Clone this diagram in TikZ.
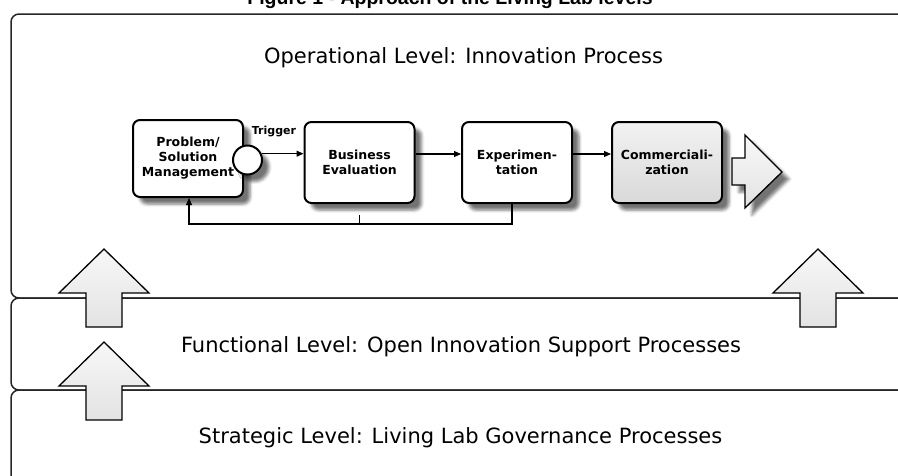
\documentclass[tikz,border=0pt]{standalone}
\usepackage{fontspec}
\setmainfont{DejaVu Sans}
\newfontfamily\capfont{Liberation Sans}
\usetikzlibrary{arrows.meta,shadows.blur}

\begin{document}
\begin{tikzpicture}[x=1pt,y=-1pt,
  level/.style={draw=black!85,line width=1.5pt,rounded corners=8pt},
  leveltext/.style={anchor=base,inner sep=0pt,font=\fontsize{21}{25}\selectfont},
  softshadow/.style={blur shadow={shadow xshift=7pt,shadow yshift=-7pt,shadow blur radius=3pt,shadow opacity=55}},
  task/.style={draw=black,line width=2pt,rounded corners=7pt,fill=white,
    minimum width=110pt,minimum height=81pt,inner sep=0pt,align=center,
    font=\bfseries\fontsize{12.5}{15}\selectfont,softshadow},
  conn/.style={line width=1.1pt,-{Triangle[length=7pt,width=6pt]}},
  plainline/.style={line width=1.1pt},
  bigarrow/.style={draw=black,line width=1.3pt,line join=miter,top color=white!97!black,bottom color=black!11},
  uparrow/.pic={\path[bigarrow] (0,0) -- (45,44) -- (18,44) -- (18,78) -- (-18,78) -- (-18,44) -- (-45,44) -- cycle;},
]
\useasboundingbox (0,0) rectangle (898,475);

% caption of the figure, running off the top edge
\node[font=\capfont\bfseries\fontsize{19.5}{22}\selectfont,anchor=base,inner sep=0pt]
  (caption) at (450,4) {Figure 1 - Approach of the Living Lab levels};

% the three stacked levels
\draw[level] (11,390) rectangle (930,530);
\draw[level] (11,298) rectangle (930,390);
\draw[level] (11,14) rectangle (930,298);

\node[leveltext] (oper) at (463.5,63) {Operational Level: Innovation Process};
\node[leveltext] (func) at (461,352) {Functional Level: Open Innovation Support Processes};
\node[leveltext] (strat) at (460.5,443) {Strategic Level: Living Lab Governance Processes};

% innovation process
\node[task,minimum height=77pt] (pb) at (188,158.5) {Problem/\\Solution\\Management};
\node[task] (be) at (359.5,162.5) {Business\\Evaluation};
\node[task] (ex) at (517,162.5) {Experimen-\\tation};
\node[task,top color=white!95!black,bottom color=black!15] (co) at (667,162.5) {Commerciali-\\zation};

\node[circle,draw=black,line width=2pt,fill=white,minimum size=29pt,inner sep=0pt,softshadow] (ev) at (247.5,160) {};
\node[font=\bfseries\fontsize{11}{13}\selectfont,anchor=base,inner sep=0pt] (trig) at (274,134) {Trigger};

\draw[conn] (ev.24) -- (ev.24 -| be.west);
\draw[conn] ([yshift=8.5pt]be.east) -- ([yshift=8.5pt]ex.west);
\draw[conn] ([yshift=8.5pt]ex.east) -- ([yshift=8.5pt]co.west);

% feedback loop back to problem/solution management
\draw[conn] ([xshift=-5pt]ex.south) -- ++(0,20) -| ([xshift=1pt]pb.south);
\draw[plainline] ([yshift=-11pt]be.south) -- ++(0,9.5);

% outgoing arrow after commercialization
\path[bigarrow,softshadow] (732,158) -- (745,158) -- (745,135) -- (782,172)
  -- (745,208) -- (745,185) -- (732,185) -- cycle;

% upward arrows between the levels
\pic at (104,249) {uparrow};
\pic at (104,342) {uparrow};
\pic at (818,249) {uparrow};
\end{tikzpicture}
\end{document}
